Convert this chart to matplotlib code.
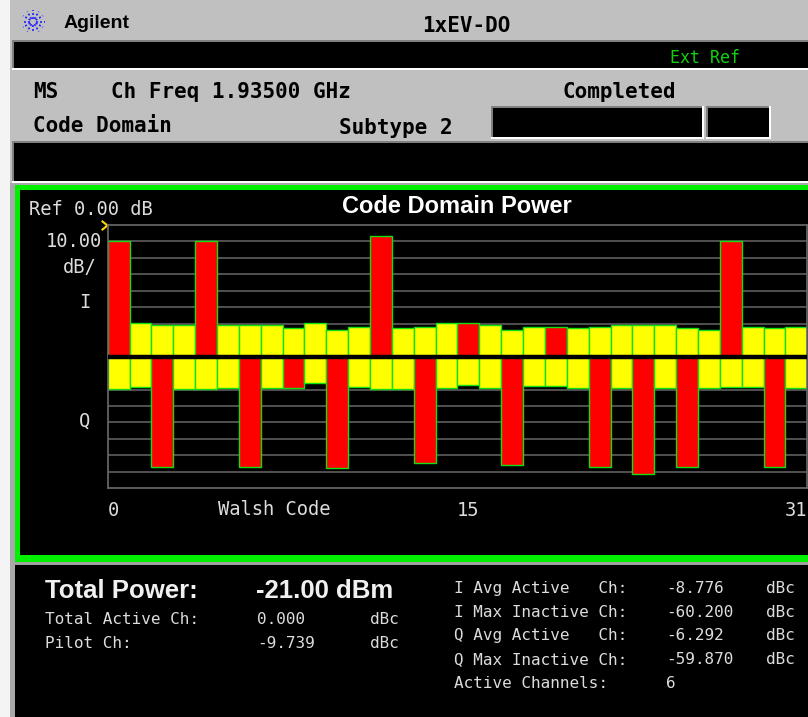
import matplotlib
matplotlib.use('Agg')
import matplotlib.pyplot as plt
import numpy as np
from matplotlib.patches import Rectangle

# Code domain power, dB relative to ref (0.00 dB), 10 dB/div
walsh_codes = np.arange(32)
i_power = [-9.5, -59.8, -60.8, -60.8, -9.5, -60.8, -60.8, -60.8,
           -62.8, -59.8, -63.8, -61.8, -6.5, -62.8, -61.8, -59.8,
           -59.8, -60.8, -63.8, -61.8, -62.2, -62.8, -61.8, -60.8,
           -60.8, -60.8, -62.8, -63.8, -9.5, -61.8, -62.8, -61.8]
q_power = [-60.2, -61.8, -13.1, -60.2, -60.2, -61.2, -13.1, -61.2,
           -61.2, -63.9, -12.2, -61.8, -60.2, -60.5, -15.2, -60.8,
           -62.8, -60.8, -14.2, -62.2, -62.2, -60.8, -13.1, -60.8,
           -8.7, -60.8, -13.1, -60.8, -61.8, -61.8, -13.1, -60.8]
i_active = [1, 0, 0, 0, 1, 0, 0, 0, 0, 0, 0, 0, 1, 0, 0, 0,
            1, 0, 0, 0, 1, 0, 0, 0, 0, 0, 0, 0, 1, 0, 0, 0]
q_active = [0, 0, 1, 0, 0, 0, 1, 0, 1, 0, 1, 0, 0, 0, 1, 0,
            0, 0, 1, 0, 0, 0, 1, 0, 1, 0, 1, 0, 0, 0, 1, 0]
x_tick_labels = ['0', '15', '31']

left_rows = [("Total Active Ch:", "0.000", "dBc"),
             ("Pilot Ch:", "-9.739", "dBc")]
right_rows = [("I Avg Active   Ch:", "-8.776", "dBc"),
              ("I Max Inactive Ch:", "-60.200", "dBc"),
              ("Q Avg Active   Ch:", "-6.292", "dBc"),
              ("Q Max Inactive Ch:", "-59.870", "dBc"),
              ("Active Channels:", "6", "")]

W, H = 808, 717
MONO = 'DejaVu Sans Mono'
SANS = 'Liberation Sans'
TXT = '#dcdcdc'

fig = plt.figure(figsize=(W / 100, H / 100), dpi=100, facecolor='#c0c0c0')
bg = fig.add_axes([0, 0, 1, 1])
bg.set_xlim(0, W)
bg.set_ylim(H, 0)
bg.axis('off')


def rect(x0, y0, x1, y1, color, z=1):
    bg.add_patch(Rectangle((x0, y0), x1 - x0, y1 - y0, facecolor=color,
                           edgecolor='none', zorder=z))


# screen frame
rect(0, 0, 10, H, '#f4f4f4')
rect(10, 0, W, H, '#c0c0c0', 0)

# header black bars
rect(12, 40, W, 68, '#808080')
rect(14, 42, W, 68, 'black', 2)
rect(12, 68, W, 70, 'white')
rect(12, 141, W, 181, '#808080')
rect(14, 143, W, 181, 'black', 2)
rect(12, 181, W, 183, 'white')

# status boxes
for x0, x1 in [(491, 704), (706, 771)]:
    rect(x0, 106, x1, 139, 'white')
    rect(x0, 106, x1 - 2, 137, '#808080', 2)
    rect(x0 + 2, 108, x1 - 2, 137, 'black', 3)

# agilent logo
for a in np.linspace(0, 2 * np.pi, 12, endpoint=False):
    bg.plot([33 + 3 * np.cos(a), 33 + 11.5 * np.cos(a)],
            [21.5 + 3 * np.sin(a), 21.5 + 11.5 * np.sin(a)],
            color='#2020ff', lw=1.2, ls=(0, (1.2, 1.2)), zorder=3)

bg.text(64, 28.5, "Agilent", fontfamily=SANS, fontweight='bold', fontsize=14,
        color='black', va='baseline', zorder=4)
bg.text(466, 31.5, "1xEV-DO", fontfamily=MONO, fontweight='bold', fontsize=15,
        color='black', ha='center', va='baseline', zorder=4)
bg.text(670, 63, "Ext Ref", fontfamily=MONO, fontsize=12, color='#10d010',
        va='baseline', zorder=4)
bg.text(33, 98, "MS", fontfamily=MONO, fontweight='bold', fontsize=15,
        color='black', va='baseline', zorder=4)
bg.text(111, 98, "Ch Freq 1.93500 GHz", fontfamily=MONO, fontweight='bold',
        fontsize=15, color='black', va='baseline', zorder=4)
bg.text(562, 98, "Completed", fontfamily=MONO, fontweight='bold', fontsize=15,
        color='black', va='baseline', zorder=4)
bg.text(33, 132, "Code Domain", fontfamily=MONO, fontweight='bold', fontsize=15,
        color='black', va='baseline', zorder=4)
bg.text(339, 134, "Subtype 2", fontfamily=MONO, fontweight='bold', fontsize=15,
        color='black', va='baseline', zorder=4)

# chart panel with green frame
rect(10, 183, W, 185, '#a8a8a8')
rect(15, 185, W + 10, 562, '#00f000', 2)
rect(20, 189.5, W + 10, 555, 'black', 3)
rect(10, 562, W, 565, '#a0a0a0')
rect(10, 185, 15, H, '#a8a8a8')
rect(15, 565, W, H, 'black', 2)

bg.text(29, 215, "Ref 0.00 dB", fontfamily=MONO, fontsize=13.5, color=TXT,
        va='baseline', zorder=5)
bg.text(456.5, 213, "Code Domain Power", fontfamily=SANS, fontweight='bold',
        fontsize=17, color='white', ha='center', va='baseline', zorder=5)
bg.text(102, 247, "10.00", fontfamily=MONO, fontsize=13.5, color=TXT,
        ha='right', va='baseline', zorder=5)
bg.text(97, 273, "dB/", fontfamily=MONO, fontsize=13.5, color=TXT,
        ha='right', va='baseline', zorder=5)
bg.text(85, 308, "I", fontfamily=MONO, fontsize=13.5, color=TXT,
        ha='center', va='baseline', zorder=5)
bg.text(84, 427, "Q", fontfamily=MONO, fontsize=13.5, color=TXT,
        ha='center', va='baseline', zorder=5)
bg.text(218, 515, "Walsh Code", fontfamily=MONO, fontsize=13.5, color=TXT,
        va='baseline', zorder=5)
bg.plot([102.5, 107.5, 102.5], [221.5, 225.5, 229.5], color='#ffd800',
        lw=1.5, zorder=6)

# plot area
x0, x1, y0, y1 = 107.7, 807.3, 225.0, 488.3
ax = fig.add_axes([x0 / W, 1 - y1 / H, (x1 - x0) / W, (y1 - y0) / H])
ax.set_facecolor('none')
ax.set_xlim(0, 32)
ax.set_ylim(0, 16)
for s in ['top', 'bottom', 'left', 'right']:
    ax.spines[s].set_color('#6a6a6a')
    ax.spines[s].set_linewidth(1.2)
ax.hlines([k for k in range(1, 16) if k != 8], 0, 32, color='#5e5e5e',
          lw=1.2, zorder=1)

i_h = [(80 + v) / 10 for v in i_power]
q_h = [-(80 + v) / 10 for v in q_power]
i_col = ['#ff0000' if a else '#ffff00' for a in i_active]
q_col = ['#ff0000' if a else '#ffff00' for a in q_active]
ax.bar(walsh_codes + 0.5, i_h, width=1.0, bottom=8, color=i_col,
       edgecolor='#10e010', linewidth=1.0, zorder=2)
ax.bar(walsh_codes + 0.5, q_h, width=1.0, bottom=8, color=q_col,
       edgecolor='#10e010', linewidth=1.0, zorder=2)
ax.axhline(8, color='black', lw=3.2, zorder=3)

# instrument puts start / middle / end labels along the Walsh axis
ax.set_xticks([0, 16.5, 32])
ax.set_xticklabels(x_tick_labels)
ax.tick_params(axis='x', length=0, pad=9, labelsize=13.5, labelcolor=TXT)
for lab, ha in zip(ax.get_xticklabels(), ['left', 'center', 'right']):
    lab.set_fontfamily(MONO)
    lab.set_horizontalalignment(ha)
ax.set_yticks([])

# summary panel
bg.text(45, 598, "Total Power:", fontfamily=SANS, fontweight='bold',
        fontsize=18.5, color='#f0f0f0', va='baseline', zorder=5)
bg.text(256, 598, "-21.00 dBm", fontfamily=SANS, fontweight='bold',
        fontsize=18.5, color='#f0f0f0', va='baseline', zorder=5)
for k, (lab, val, unit) in enumerate(left_rows):
    yb = 624 + 24 * k
    bg.text(45, yb, lab, fontfamily=MONO, fontsize=11.5, color=TXT,
            va='baseline', zorder=5)
    bg.text(257, yb, val, fontfamily=MONO, fontsize=11.5, color=TXT,
            va='baseline', zorder=5)
    bg.text(370, yb, unit, fontfamily=MONO, fontsize=11.5, color=TXT,
            va='baseline', zorder=5)
for k, (lab, val, unit) in enumerate(right_rows):
    yb = 593 + 23.7 * k
    bg.text(454, yb, lab, fontfamily=MONO, fontsize=11.5, color=TXT,
            va='baseline', zorder=5)
    bg.text(666, yb, val, fontfamily=MONO, fontsize=11.5, color=TXT,
            va='baseline', zorder=5)
    bg.text(766, yb, unit, fontfamily=MONO, fontsize=11.5, color=TXT,
            va='baseline', zorder=5)

fig.savefig('out.png', dpi=100, facecolor=fig.get_facecolor())
